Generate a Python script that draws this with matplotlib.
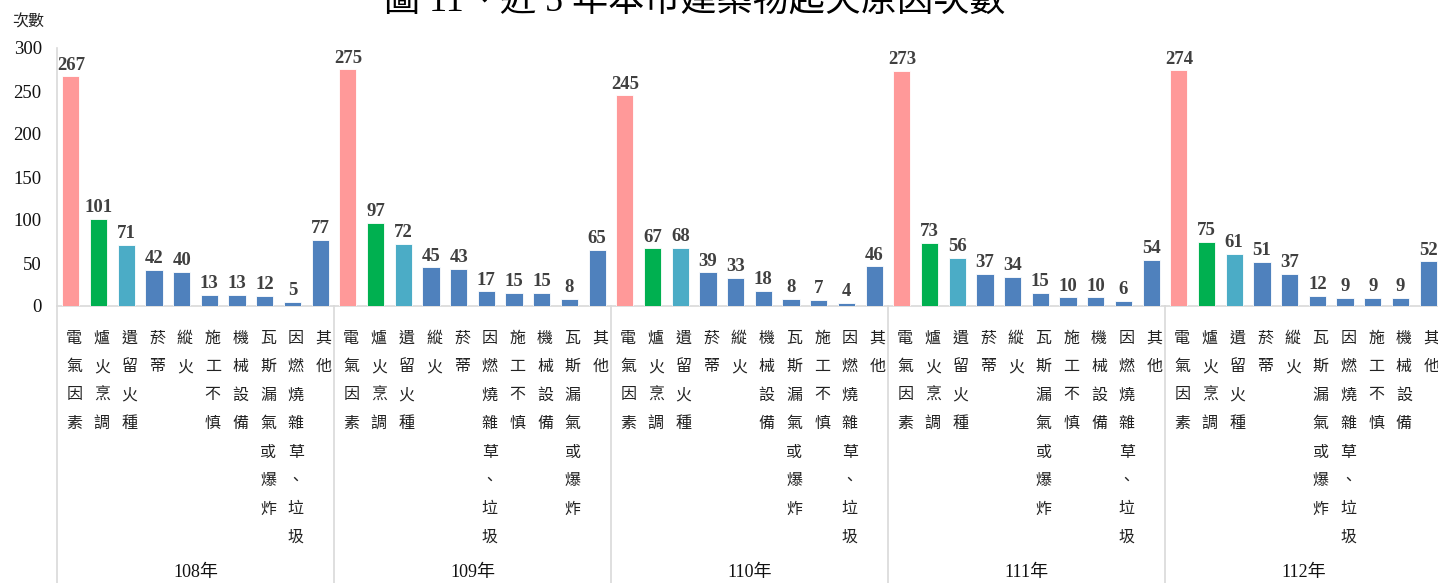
import matplotlib
matplotlib.use("Agg")
import matplotlib.pyplot as plt
import matplotlib.transforms as mtransforms

plt.rcParams['font.family'] = ['Noto Sans CJK TC', 'DejaVu Sans']

# 各年度起火原因次數（依當年度排序）
years = ['108年', '109年', '110年', '111年', '112年']

causes_108 = ['電氣因素', '爐火烹調', '遺留火種', '菸蒂', '縱火', '施工不慎', '機械設備',
              '瓦斯漏氣或爆炸', '因燃燒雜草、垃圾', '其他']
counts_108 = [267, 101, 71, 42, 40, 13, 13, 12, 5, 77]

causes_109 = ['電氣因素', '爐火烹調', '遺留火種', '縱火', '菸蒂', '因燃燒雜草、垃圾', '施工不慎',
              '機械設備', '瓦斯漏氣或爆炸', '其他']
counts_109 = [275, 97, 72, 45, 43, 17, 15, 15, 8, 65]

causes_110 = ['電氣因素', '爐火烹調', '遺留火種', '菸蒂', '縱火', '機械設備', '瓦斯漏氣或爆炸',
              '施工不慎', '因燃燒雜草、垃圾', '其他']
counts_110 = [245, 67, 68, 39, 33, 18, 8, 7, 4, 46]

causes_111 = ['電氣因素', '爐火烹調', '遺留火種', '菸蒂', '縱火', '瓦斯漏氣或爆炸', '施工不慎',
              '機械設備', '因燃燒雜草、垃圾', '其他']
counts_111 = [273, 73, 56, 37, 34, 15, 10, 10, 6, 54]

causes_112 = ['電氣因素', '爐火烹調', '遺留火種', '菸蒂', '縱火', '瓦斯漏氣或爆炸', '因燃燒雜草、垃圾',
              '施工不慎', '機械設備', '其他']
counts_112 = [274, 75, 61, 51, 37, 12, 9, 9, 9, 52]

all_causes = [causes_108, causes_109, causes_110, causes_111, causes_112]
all_counts = [counts_108, counts_109, counts_110, counts_111, counts_112]

cause_colors = {'電氣因素': '#FF9999', '爐火烹調': '#00B050', '遺留火種': '#4BACC6'}
other_color = '#4F81BD'

W, H = 1438, 583
fig = plt.figure(figsize=(W / 100, H / 100), dpi=100)
ax = fig.add_axes([57 / W, (H - 306) / H, 1385 / W, 258 / H])

grid_col = '#D9D9D9'
serif = ['Liberation Serif', 'Noto Sans CJK TC']

xs, vals, cols, names = [], [], [], []
for g, (causes, counts) in enumerate(zip(all_causes, all_counts)):
    for i, (c, v) in enumerate(zip(causes, counts)):
        xs.append(g * 10 + i)
        vals.append(v)
        cols.append(cause_colors.get(c, other_color))
        names.append(c)

bars = ax.bar(xs, vals, width=0.62, color=cols, edgecolor='white', linewidth=0.6, zorder=3)
for b, v in zip(bars, vals):
    ax.annotate(str(v), (b.get_x() + b.get_width() / 2, v), xytext=(0, 2),
                textcoords='offset points', ha='center', va='bottom',
                fontsize=13.5, fontweight='bold', family='Liberation Serif', color='#404040')

ax.set_xlim(-0.5, 49.5)
ax.set_ylim(0, 300)
ax.set_yticks(range(0, 301, 50))
ax.tick_params(axis='y', length=0, labelsize=13.5, pad=11, labelcolor='#111111')
for lab in ax.get_yticklabels():
    lab.set_family('Liberation Serif')
ax.set_xticks([])
for s in ['top', 'right', 'left']:
    ax.spines[s].set_visible(False)
ax.spines['bottom'].set_color(grid_col)
ax.spines['bottom'].set_linewidth(1.2)

# 年度分隔線，延伸到圖底
ax.plot([-0.5, -0.5], [1, -1.08], transform=ax.get_xaxis_transform(),
        color=grid_col, lw=1.2, clip_on=False)
for g in range(1, 5):
    ax.plot([g * 10 - 0.5] * 2, [0, -1.08], transform=ax.get_xaxis_transform(),
            color=grid_col, lw=1.2, clip_on=False)

# 直書類別名稱
trans = mtransforms.blended_transform_factory(ax.transData, fig.transFigure)
for x, name in zip(xs, names):
    for k, ch in enumerate(name):
        ypx = 338 + k * 28.5
        ax.text(x + 0.12, (H - ypx) / H, ch, transform=trans, ha='center', va='center',
                fontsize=11.5, color='#222222', clip_on=False)

for g, y in enumerate(years):
    ax.text(g * 10 + 4.5, (H - 573) / H, y, transform=trans, ha='center', va='center',
            fontsize=13, family=serif, color='#111111')

fig.text(12 / W, (H - 22) / H, '次數', ha='left', va='center', fontsize=11.5, color='#222222')
fig.text(695 / W, 1 - 2 / H, '圖 11、近 5 年本市建築物起火原因次數', ha='center', va='center',
         fontsize=26, family=serif, color='black')

fig.savefig('out.png', dpi=100)
